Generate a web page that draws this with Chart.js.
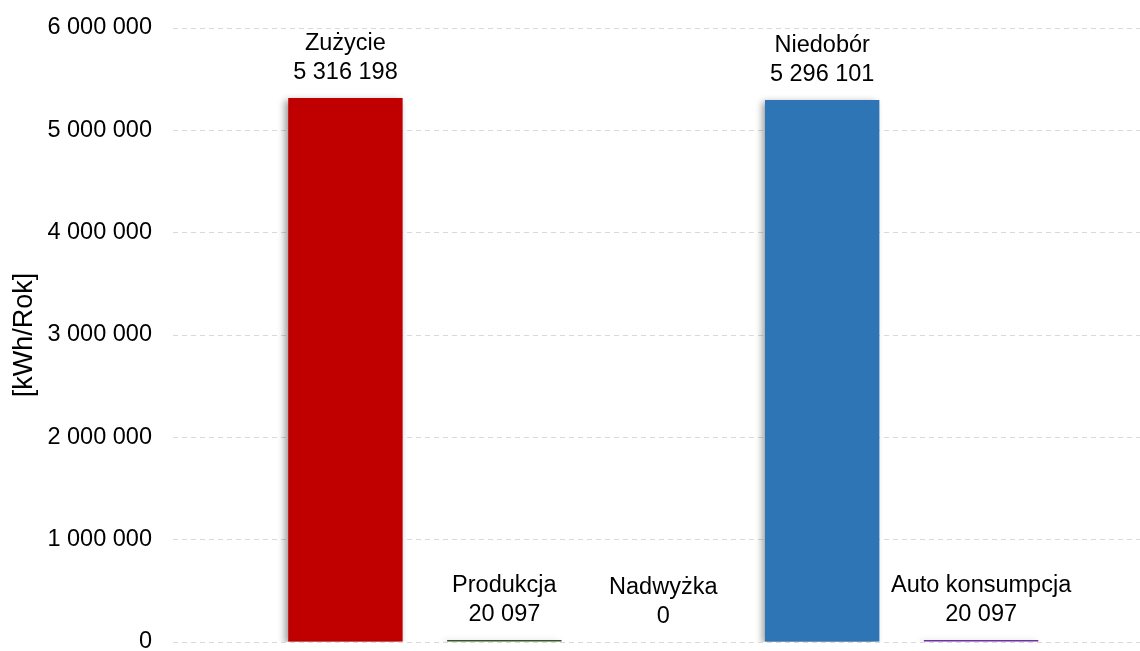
<!DOCTYPE html>
<html>
<head>
<meta charset="utf-8">
<script src="https://cdn.jsdelivr.net/npm/chart.js@4/dist/chart.umd.min.js"></script>
<style>
html,body{margin:0;padding:0;background:#fff;}
#wrap{width:1140px;height:651px;}
</style>
</head>
<body>
<div id="wrap"><canvas id="c" width="1140" height="651"></canvas></div>
<script>
const categories = ["Zużycie", "Produkcja", "Nadwyżka", "Niedobór", "Auto konsumpcja"];
const values = [5316198, 20097, 0, 5296101, 20097];
const barColors = ["#C00000", "#375623", "#A5A5A5", "#2E75B6", "#7030A0"];
const yTicks = [0, 1000000, 2000000, 3000000, 4000000, 5000000, 6000000];
const yTitle = "[kWh/Rok]";

function fmt(v){ return String(v).replace(/\B(?=(\d{3})+(?!\d))/g, " "); }

const FONT = "'Liberation Sans', Arial, sans-serif";
Chart.defaults.font.family = FONT;
Chart.defaults.font.size = 23.5;
Chart.defaults.color = "#000";

const shadowPlugin = {
  id: 'shadow',
  beforeDatasetsDraw(chart){
    const ctx = chart.ctx;
    ctx.save();
    ctx.shadowColor = 'rgba(0,0,0,0.4)';
    ctx.shadowBlur = 7;
    ctx.shadowOffsetX = -3;
    ctx.shadowOffsetY = 2;
  },
  afterDatasetsDraw(chart){
    chart.ctx.restore();
  }
};

const labelPlugin = {
  id: 'barLabels',
  afterDraw(chart){
    const ctx = chart.ctx;
    const meta = chart.getDatasetMeta(0);
    ctx.save();
    ctx.font = "23.5px " + FONT;
    ctx.fillStyle = "#000";
    ctx.textAlign = "center";
    ctx.textBaseline = "alphabetic";
    meta.data.forEach((el, i) => {
      const x = el.x;
      const top = Math.min(el.y, el.base);
      ctx.fillText(fmt(values[i]), x, top - 19);
      ctx.fillText(categories[i], x, top - 48);
    });
    ctx.restore();
  }
};

new Chart(document.getElementById('c'), {
  type: 'bar',
  data: {
    datasets: [{
      data: values.map((v, i) => ({x: i, y: v})),
      backgroundColor: barColors,
      borderWidth: 0,
      categoryPercentage: 0.8,
      barPercentage: 0.9
    }]
  },
  options: {
    responsive: false,
    animation: false,
    layout: { padding: { top: 28, bottom: 9, left: 0, right: 0 } },
    plugins: { legend: { display: false }, tooltip: { enabled: false } },
    scales: {
      x: {
        type: 'linear',
        offset: false,
        min: -1.085,
        max: 5,
        display: false
      },
      y: {
        min: 0,
        max: 6000000,
        afterBuildTicks(s){ s.ticks = yTicks.map(v => ({value: v})); },
        afterFit(s){ s.width = 173; s.paddingTop = 0; s.paddingBottom = 0; },
        border: { display: false, dash: [5, 4] },
        grid: { color: '#D9D9D9', lineWidth: 1, drawTicks: false },
        ticks: { padding: 21, callback: v => fmt(v), font: { size: 23.5 } },
        title: { display: true, text: yTitle, font: { size: 27 }, padding: { top: 8, bottom: 0 } }
      }
    }
  },
  plugins: [shadowPlugin, labelPlugin]
});
</script>
</body>
</html>
